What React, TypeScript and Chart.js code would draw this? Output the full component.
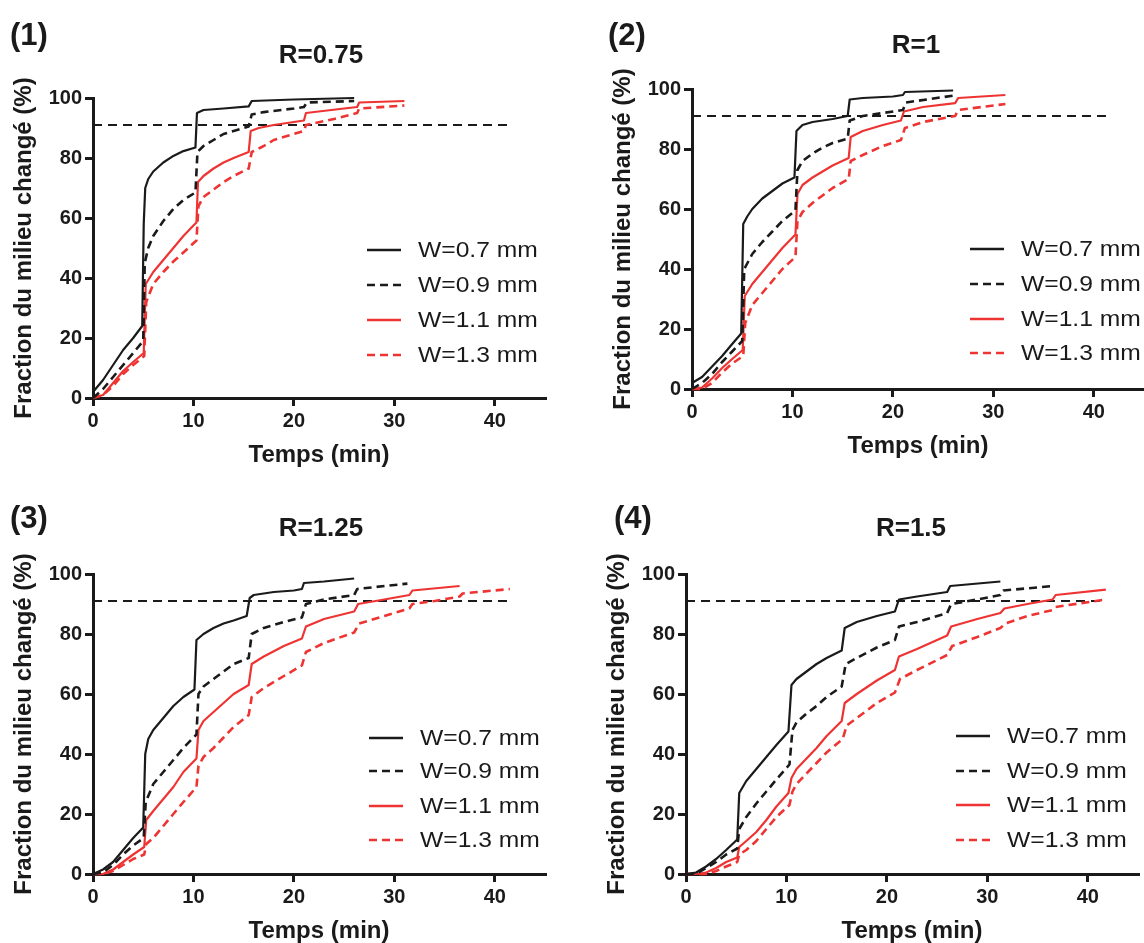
import React, { useEffect, useRef } from 'react';
import { Chart, registerables } from 'chart.js';

Chart.register(...registerables);

type Pt = [number, number];

const SERIES_LABELS = ['W=0.7 mm', 'W=0.9 mm', 'W=1.1 mm', 'W=1.3 mm'];
const X_TICKS = [0, 10, 20, 30, 40];
const Y_TICKS = [0, 20, 40, 60, 80, 100];
const THRESHOLD = 91;
const THRESHOLD_END = 41.5;
const X_TITLE = 'Temps (min)';
const Y_TITLE = 'Fraction du milieu changé (%)';
const PANEL_LABELS = ['(1)', '(2)', '(3)', '(4)'];
const PANEL_TITLES = ['R=0.75', 'R=1', 'R=1.25', 'R=1.5'];

// ---- R = 0.75 ----
const r075_w07: Pt[] = [[0, 2], [1, 6], [2, 11], [3, 16], [4, 20], [4.9, 24], [5.05, 58], [5.2, 70], [5.5, 73], [6, 75.5], [7, 78.5], [8, 80.7], [9, 82.3], [10.2, 83.5], [10.35, 95], [11, 96], [13, 96.5], [15.5, 97.2], [15.8, 99], [20, 99.5], [26, 100]];
const r075_w09: Pt[] = [[0, 0], [1, 3], [2, 7], [3, 11], [4, 15], [5, 19], [5.15, 45], [5.5, 50], [6, 54], [7, 59], [8, 63], [9, 66], [10.2, 68.5], [10.4, 82], [11, 84], [12, 86], [13, 88], [14, 89], [15.5, 90.5], [15.8, 94.5], [17, 95.3], [20, 96.5], [21, 97], [21.3, 98.5], [26, 99]];
const r075_w11: Pt[] = [[0, 0], [1, 1], [2, 5], [3, 9], [4, 12], [5.05, 15], [5.25, 38], [6, 42], [7, 46], [8, 50], [9, 54], [10, 57.5], [10.3, 58.5], [10.45, 72], [11, 74], [12, 76.5], [13, 78.5], [14, 80], [15.5, 82], [15.7, 89], [16.5, 90], [18, 91], [20, 92], [21, 92.5], [21.2, 95], [25, 96.5], [26.3, 97], [26.5, 98.5], [31, 99]];
const r075_w13: Pt[] = [[0, 0], [1, 1], [2, 4], [3, 8], [4, 11], [5.1, 14], [5.3, 32], [6, 38], [7, 42], [8, 45.5], [9, 48.5], [10.3, 52.5], [10.5, 64], [11, 67], [12, 69.5], [13, 72], [14, 74], [15.5, 76.5], [15.8, 82], [17, 84], [18, 86], [20, 88], [21, 89], [21.2, 91], [24, 93], [26.3, 95], [26.5, 96.5], [31, 97.5]];

// ---- R = 1 ----
const r1_w07: Pt[] = [[0, 2], [1, 4], [2, 7.5], [3, 11], [4, 15], [4.9, 18.5], [5.1, 55], [5.5, 57.5], [6, 60], [7, 63.5], [8, 66], [9, 68.5], [10.2, 70.5], [10.4, 86], [11, 88], [12, 89], [14, 90], [15.5, 91], [15.7, 96.5], [17, 97], [20, 97.5], [21, 98], [21.2, 99], [26, 99.5]];
const r1_w09: Pt[] = [[0, 0], [1, 2], [2, 5], [3, 9], [4, 12.5], [5, 16], [5.2, 40], [6, 45], [7, 49], [8, 52.5], [9, 56], [10.3, 59.5], [10.5, 73], [11, 76], [12, 78.5], [13, 80.5], [14, 82], [15.5, 83.5], [15.7, 89.5], [17, 91], [19, 92], [21, 93], [21.3, 95.5], [26, 97.8]];
const r1_w11: Pt[] = [[0, 0], [1, 0.5], [2, 3.5], [3, 7], [4, 10], [5.05, 13], [5.25, 31], [6, 35], [7, 39], [8, 43], [9, 47], [10.3, 51.5], [10.5, 65], [11, 68], [12, 70.5], [13, 72.5], [14, 74.5], [15.6, 77], [15.8, 84], [17, 86], [19, 88], [20.8, 89.5], [21.1, 92.5], [23, 94], [26.2, 95.3], [26.5, 97], [31.2, 98]];
const r1_w13: Pt[] = [[0, 0], [1, 0], [2, 2], [3, 5.5], [4, 8.5], [5.1, 11], [5.3, 22], [6, 28], [7, 32], [8, 36], [9, 40], [10.3, 44], [10.5, 56], [11, 59], [12, 62], [13, 64.5], [14, 67], [15.6, 70], [15.8, 76], [17, 78], [19, 81], [20.8, 83], [21.2, 87], [23, 89], [26.2, 91], [26.5, 93], [31.2, 95]];

// ---- R = 1.25 ----
const r125_w07: Pt[] = [[0, 0], [1, 1.5], [2, 4], [3, 8], [4, 12], [5, 15.5], [5.2, 40], [5.5, 45], [6, 48], [7, 52], [8, 56], [9, 59], [10.1, 61.5], [10.3, 78], [11, 80], [12, 82], [13, 83.5], [14, 84.5], [15.3, 86], [15.6, 92], [16, 93], [18, 94], [20, 94.5], [20.8, 95], [21, 97], [23, 97.5], [26, 98.5]];
const r125_w09: Pt[] = [[0, 0], [1, 0.5], [2, 3], [3, 6.5], [4, 9.5], [5.05, 12], [5.25, 24], [6, 30], [7, 34], [8, 38], [9, 42], [10.3, 46.5], [10.5, 60], [11, 62.5], [12, 65], [13, 67.5], [14, 70], [15.5, 72], [15.8, 80], [17, 82], [19, 84], [20.8, 85.5], [21.2, 90], [23, 91.5], [26, 93], [26.3, 95], [31.3, 96.8]];
const r125_w11: Pt[] = [[0, 0], [1, 0], [2, 1.5], [3, 4], [4, 6.5], [5.1, 9], [5.3, 18], [6, 21], [7, 25], [8, 29], [9, 34], [10.3, 38.5], [10.5, 48], [11, 51], [12, 54], [13, 57], [14, 60], [15.5, 63], [15.8, 70], [17, 72.5], [19, 76], [20.8, 78.5], [21.2, 82.5], [23, 85], [26, 87.5], [26.4, 90], [29, 91.5], [31.5, 93], [31.8, 94.5], [36.5, 96]];
const r125_w13: Pt[] = [[0, 0], [1, 0], [2, 1], [3, 3], [4, 5], [5.1, 6.5], [5.3, 10], [6, 12], [7, 16], [8, 20], [9, 24], [10.3, 29], [10.5, 36], [11, 39], [12, 42], [13, 45.5], [14, 49], [15.5, 53], [15.8, 59], [17, 62], [19, 66], [20.8, 69.5], [21.2, 74], [23, 77], [26, 80.5], [26.5, 83.5], [29, 86], [31.5, 88.5], [31.8, 90], [34, 91], [36.5, 92.5], [36.8, 93.5], [41.5, 95]];

// ---- R = 1.5 ----
const r15_w07: Pt[] = [[0, 0], [1, 0.5], [2, 2.5], [3, 5], [4, 8], [5.1, 11.5], [5.3, 27], [6, 31], [7, 35], [8, 39], [9, 43], [10.2, 47.5], [10.5, 63], [11, 65], [12, 67.5], [13, 70], [14, 72], [15.5, 74.5], [15.8, 82], [17, 84], [19, 86], [20.8, 87.5], [21.2, 91.5], [23, 92.5], [26, 94], [26.3, 96], [31.3, 97.5]];
const r15_w09: Pt[] = [[0, 0], [1, 0], [2, 2], [3, 4], [4, 6.5], [5.1, 8.5], [5.3, 15], [6, 19], [7, 23.5], [8, 27.5], [9, 31.5], [10.3, 36.5], [10.6, 48], [11, 50.5], [12, 53.5], [13, 56], [14, 59], [15.5, 62.5], [15.9, 70], [17, 72], [19, 75.5], [20.8, 78], [21.2, 82.5], [23, 84], [26, 87], [26.4, 90], [29, 91.5], [31.3, 93], [31.6, 94.5], [36.6, 96]];
const r15_w11: Pt[] = [[0, 0], [1, 0], [2, 0.5], [3, 2], [4, 4], [5.1, 5.5], [5.3, 9], [6, 11], [7, 14], [8, 18], [9, 22.5], [10.2, 27], [10.5, 32], [11, 35], [12, 38.5], [13, 42], [14, 46], [15.5, 51], [15.8, 57], [17, 60], [19, 64.5], [20.8, 68], [21.2, 72.5], [23, 75], [26, 79.5], [26.4, 82.5], [29, 85], [31.3, 87], [31.7, 88.5], [34, 90], [36.5, 91.5], [36.8, 93], [41.8, 94.8]];
const r15_w13: Pt[] = [[0, 0], [1, 0], [2, 0], [3, 1], [4, 2.5], [5.1, 4], [5.3, 6.5], [6, 8], [7, 11], [8, 15], [9, 19], [10.3, 23], [10.6, 27.5], [11, 30], [12, 33.5], [13, 37], [14, 40.5], [15.6, 45], [16, 49.5], [17, 52], [19, 57], [20.8, 60.5], [21.3, 65], [23, 68], [26, 73], [26.5, 76], [29, 79], [31.3, 82], [31.8, 83.5], [34, 86], [36.5, 88], [36.8, 89], [41.8, 91.5]];

const PANEL_SERIES: Pt[][][] = [
  [r075_w07, r075_w09, r075_w11, r075_w13],
  [r1_w07, r1_w09, r1_w11, r1_w13],
  [r125_w07, r125_w09, r125_w11, r125_w13],
  [r15_w07, r15_w09, r15_w11, r15_w13],
];

// ---- styling / layout ----
const FONT = "'Liberation Sans', Arial, Helvetica, sans-serif";
const INK = '#1a1a1a';
const RED = '#ee3433';
const SERIES_COLORS = [INK, INK, RED, RED];
const SERIES_DASHED = [false, true, false, true];
const DASH = [8, 5];

const AREA_LEFT = 93;
const AREA_TOP = 98;
const AREA_W = 452;
const AREA_H = 300;
const CANVAS_H = 470;

interface PanelLayout {
  areaLeft: number;
  areaTop: number;
  width: number;
  legendX: number;
  legendRows: number[];
  labelX: number;
  labelY: number;
  titleX: number;
  titleY: number;
}

const LAYOUTS: PanelLayout[] = [
  { areaLeft: 93, areaTop: 98, width: 572, legendX: 274, legendRows: [148, 113, 78, 43], labelX: 10, labelY: 35, titleX: 321, titleY: 54 },
  { areaLeft: 692, areaTop: 89, width: 545, legendX: 278, legendRows: [140, 105, 70, 36], labelX: 608, labelY: 35, titleX: 916, titleY: 44 },
  { areaLeft: 93, areaTop: 574, width: 572, legendX: 276, legendRows: [136, 103, 68, 34], labelX: 10, labelY: 518, titleX: 321, titleY: 527 },
  { areaLeft: 686, areaTop: 574, width: 551, legendX: 270, legendRows: [138, 103, 69, 34], labelX: 614, labelY: 518, titleX: 911, titleY: 527 },
];

function Panel({ idx }: { idx: number }) {
  const ref = useRef<HTMLCanvasElement | null>(null);
  const lay = LAYOUTS[idx];

  useEffect(() => {
    if (!ref.current) return;
    const series = PANEL_SERIES[idx];
    const datasets: any[] = series.map((pts, i) => ({
      label: SERIES_LABELS[i],
      data: pts.map(([x, y]) => ({ x, y })),
      borderColor: SERIES_COLORS[i],
      borderWidth: SERIES_DASHED[i] ? 2.6 : 2.2,
      borderDash: SERIES_DASHED[i] ? DASH : [],
      pointRadius: 0,
      fill: false,
      tension: 0,
      borderJoinStyle: 'round',
      clip: false,
    }));
    datasets.push({
      label: 'seuil',
      data: [
        { x: 0, y: THRESHOLD },
        { x: THRESHOLD_END, y: THRESHOLD },
      ],
      borderColor: INK,
      borderWidth: 2.2,
      borderDash: [9, 6],
      pointRadius: 0,
      fill: false,
      tension: 0,
      clip: false,
    });

    const legendPlugin = {
      id: 'manualLegend',
      afterDatasetsDraw(chart: any) {
        const { ctx, chartArea } = chart;
        ctx.save();
        SERIES_LABELS.forEach((label, i) => {
          const y = chartArea.bottom - lay.legendRows[i];
          const x0 = chartArea.left + lay.legendX;
          ctx.beginPath();
          ctx.strokeStyle = SERIES_COLORS[i];
          ctx.lineWidth = 2.6;
          ctx.setLineDash(SERIES_DASHED[i] ? [8, 5] : []);
          ctx.moveTo(x0, y);
          ctx.lineTo(x0 + 34, y);
          ctx.stroke();
          ctx.setLineDash([]);
          ctx.save();
          ctx.translate(x0 + 51, y + 1);
          ctx.scale(1.12, 1);
          ctx.fillStyle = INK;
          ctx.font = `normal 22px ${FONT}`;
          ctx.textAlign = 'left';
          ctx.textBaseline = 'middle';
          ctx.fillText(label, 0, 0);
          ctx.restore();
        });
        ctx.restore();
      },
    };

    const tickFont = { family: FONT, size: 20, weight: 'bold' as const };
    const titleFont = { family: FONT, size: 24, weight: 'bold' as const };

    const chart = new Chart(ref.current, {
      type: 'line',
      data: { datasets },
      plugins: [legendPlugin],
      options: {
        animation: false,
        responsive: true,
        maintainAspectRatio: false,
        layout: {
          padding: { left: 0, top: AREA_TOP, right: lay.width - AREA_LEFT - AREA_W, bottom: 0 },
        },
        plugins: {
          legend: { display: false },
          tooltip: { enabled: false },
          title: { display: false },
        },
        scales: {
          x: {
            type: 'linear',
            min: 0,
            max: 45,
            afterBuildTicks: (s: any) => {
              s.ticks = X_TICKS.map((v) => ({ value: v }));
            },
            afterFit: (s: any) => {
              s.height = CANVAS_H - AREA_TOP - AREA_H;
            },
            ticks: { font: tickFont, color: INK, padding: 3, maxRotation: 0, autoSkip: false },
            grid: { drawOnChartArea: false, drawTicks: true, tickLength: 8, color: INK, lineWidth: 3 },
            border: { display: true, color: INK, width: 3 },
            title: { display: true, text: X_TITLE, font: titleFont, color: INK, padding: { top: 0, bottom: 0 } },
          },
          y: {
            type: 'linear',
            min: 0,
            max: 100,
            afterBuildTicks: (s: any) => {
              s.ticks = Y_TICKS.map((v) => ({ value: v }));
            },
            afterFit: (s: any) => {
              s.width = AREA_LEFT;
            },
            ticks: { font: tickFont, color: INK, padding: 3, autoSkip: false },
            grid: { drawOnChartArea: false, drawTicks: true, tickLength: 8, color: INK, lineWidth: 3 },
            border: { display: true, color: INK, width: 3 },
            title: { display: true, text: Y_TITLE, font: titleFont, color: INK, padding: { top: 10, bottom: 0 } },
          },
        },
      } as any,
    });
    return () => chart.destroy();
  }, [idx]);

  return (
    <div
      style={{
        position: 'absolute',
        left: lay.areaLeft - AREA_LEFT,
        top: lay.areaTop - AREA_TOP,
        width: lay.width,
        height: CANVAS_H,
      }}
    >
      <canvas ref={ref} />
    </div>
  );
}

export default function App() {
  return (
    <div
      style={{
        position: 'absolute',
        left: 0,
        top: 0,
        width: 1144,
        height: 943,
        overflow: 'hidden',
        background: '#ffffff',
        fontFamily: FONT,
        color: INK,
      }}
    >
      {LAYOUTS.map((lay, i) => (
        <Panel key={i} idx={i} />
      ))}
      {LAYOUTS.map((lay, i) => (
        <React.Fragment key={'t' + i}>
          <div
            style={{
              position: 'absolute',
              left: lay.labelX,
              top: lay.labelY - 18,
              height: 36,
              lineHeight: '36px',
              fontSize: 31,
              fontWeight: 'bold',
              whiteSpace: 'nowrap',
            }}
          >
            {PANEL_LABELS[i]}
          </div>
          <div
            style={{
              position: 'absolute',
              left: lay.titleX - 100,
              width: 200,
              top: lay.titleY - 16,
              height: 32,
              lineHeight: '32px',
              fontSize: 26,
              fontWeight: 'bold',
              textAlign: 'center',
              whiteSpace: 'nowrap',
            }}
          >
            {PANEL_TITLES[i]}
          </div>
        </React.Fragment>
      ))}
    </div>
  );
}
